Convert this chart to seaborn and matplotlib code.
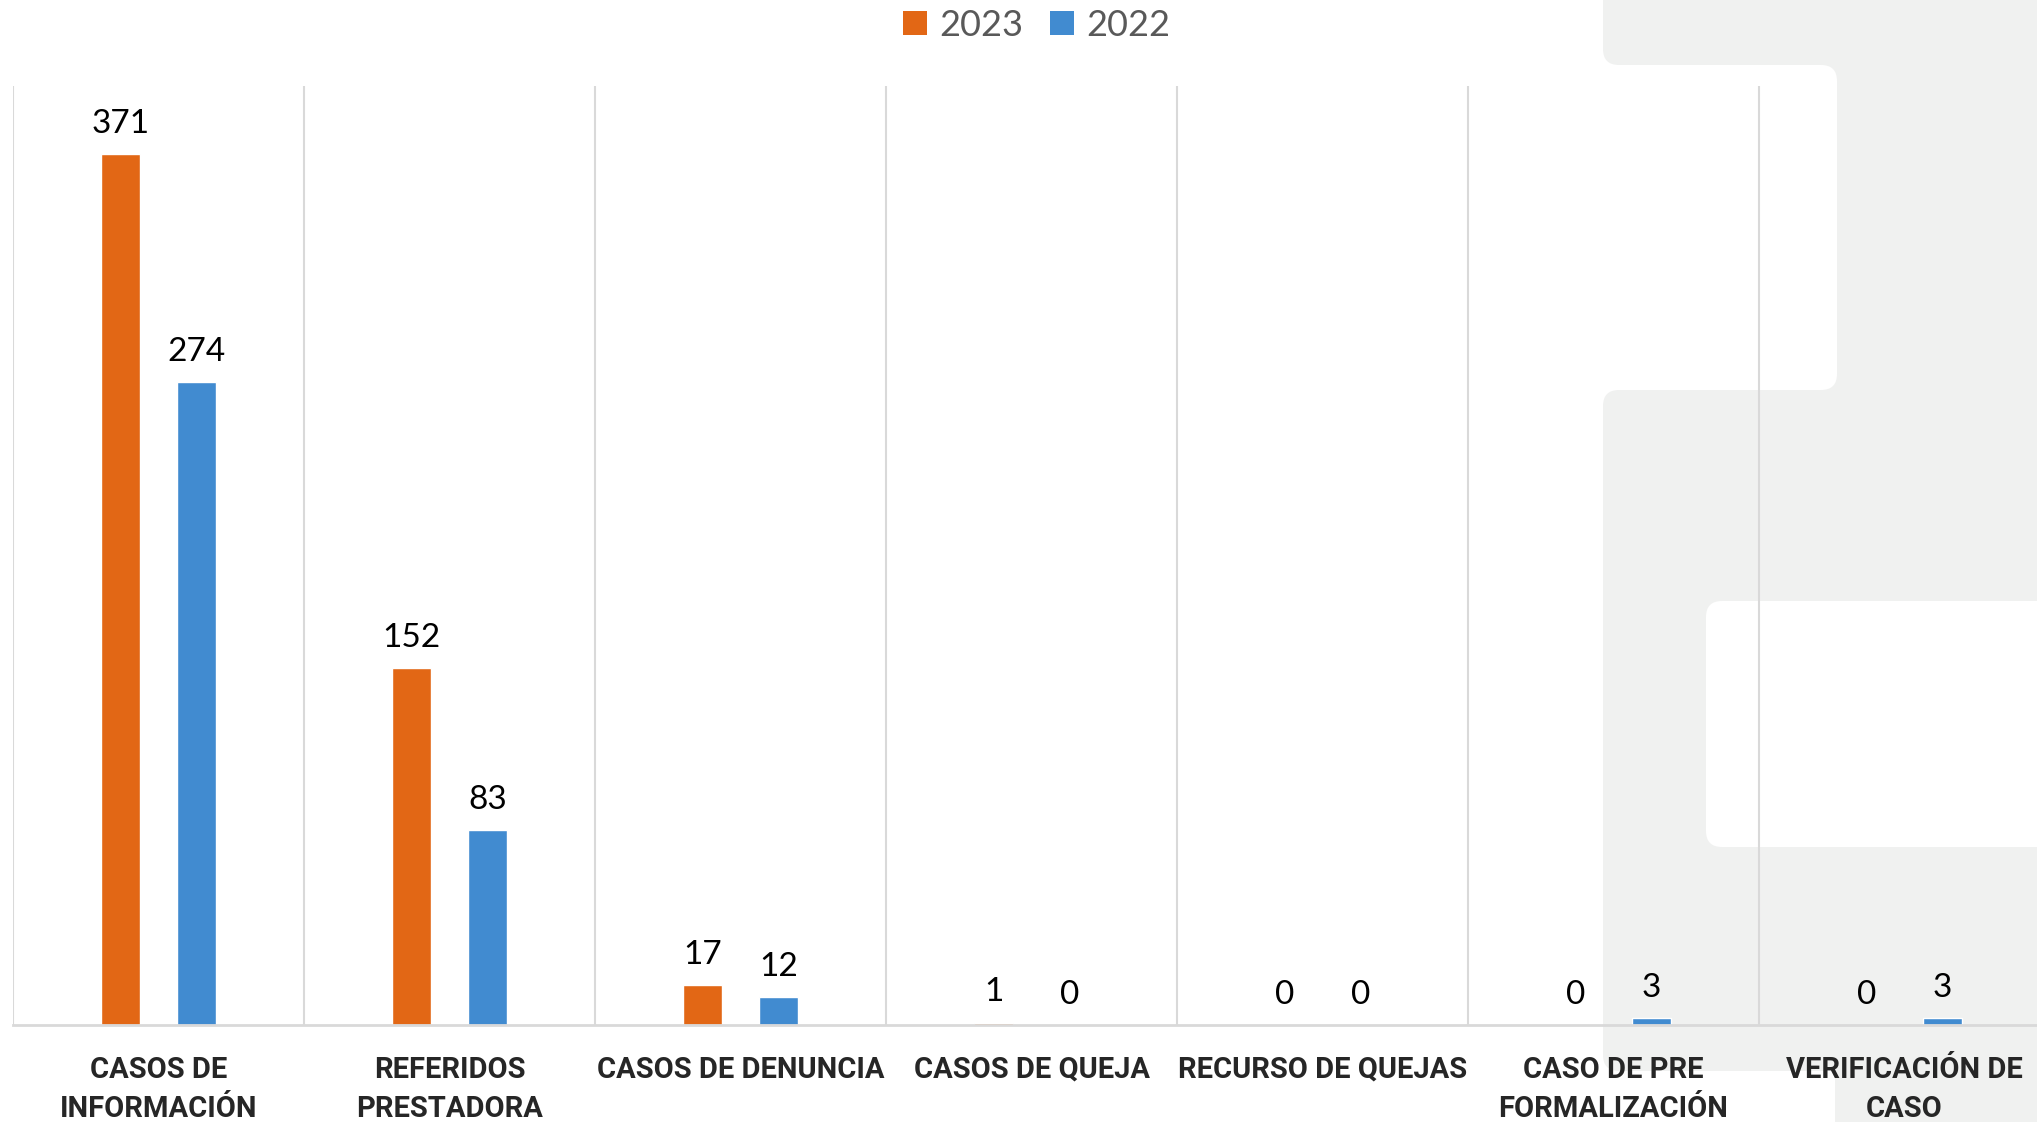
import pandas as pd
import numpy as np
import seaborn as sns
import matplotlib.pyplot as plt
from matplotlib.patches import FancyBboxPatch, Rectangle
from matplotlib.transforms import IdentityTransform

# Data
categories = ['CASOS DE\nINFORMACIÓN', 'REFERIDOS\nPRESTADORA', 'CASOS DE DENUNCIA',
              'CASOS DE QUEJA', 'RECURSO DE QUEJAS', 'CASO DE PRE\nFORMALIZACIÓN',
              'VERIFICACIÓN DE\nCASO']
values_2023 = [371, 152, 17, 1, 0, 0, 0]
values_2022 = [274, 83, 12, 0, 0, 3, 3]
years = ['2023', '2022']
colors = ['#E26715', '#418BD0']

df = pd.DataFrame({
    'categoria': categories * 2,
    'valor': values_2023 + values_2022,
    'anio': [years[0]] * len(categories) + [years[1]] * len(categories),
})

sns.set_style('white')
plt.rcParams['font.family'] = ['Lato', 'DejaVu Sans']

W, H = 2037, 1122
fig = plt.figure(figsize=(W / 100, H / 100), dpi=100)

# decorative light gray background shape, drawn in pixel coords (y from top)
gray = '#F0F1F0'
def px_box(x0, y0, x1, y1, color, rad=16, z=0):
    b = FancyBboxPatch((x0, H - y1), x1 - x0, y1 - y0,
                       boxstyle=f'round,pad=0,rounding_size={rad}',
                       transform=IdentityTransform(), facecolor=color,
                       edgecolor='none', zorder=z)
    fig.patches.append(b)

px_box(1720, 30, 2100, 420, gray, rad=0, z=0)
px_box(1540, 65, 1837, 390, 'white', z=1)
px_box(1603, -40, 2100, 65, gray, z=2)
px_box(1603, 390, 2100, 1071, gray, z=2)
px_box(1835, 1040, 2100, 1160, gray, rad=0, z=2)
px_box(1706, 601, 2100, 847, 'white', z=3)

ax = fig.add_axes([13 / W, (H - 1025) / H, (2050 - 13) / W, (1025 - 86) / H])
ax.set_facecolor('none')
ax.set_zorder(5)

sns.barplot(data=df, x='categoria', y='valor', hue='anio', hue_order=years,
            palette=colors, width=0.52, gap=0.485, saturation=1, ax=ax,
            legend=False)

for cont in ax.containers:
    ax.bar_label(cont, padding=11, fontsize=24, color='black')

ax.set_ylim(0, 400)
ax.set_xlim(-0.5, len(categories) - 0.5)
ax.set_yticks([])
ax.set_xlabel('')
ax.set_ylabel('')
ax.set_xticks(np.arange(-0.5, len(categories), 1), minor=True)
ax.grid(True, axis='x', which='minor', color='#D9D9D9', linewidth=1.5)
ax.tick_params(axis='x', which='both', length=0, pad=22)
for lab in ax.get_xticklabels():
    lab.set_family(['Roboto', 'Lato', 'DejaVu Sans'])
    lab.set_fontweight('bold')
    lab.set_fontsize(21)
    lab.set_linespacing(1.5)
for s in ['top', 'right', 'left']:
    ax.spines[s].set_visible(False)
ax.spines['bottom'].set_color('#D9D9D9')
ax.spines['bottom'].set_linewidth(2)

# legend at top
handles = [Rectangle((0, 0), 1, 1, facecolor=c, edgecolor='none') for c in colors]
fig.legend(handles, years, loc='center', bbox_to_anchor=(0.509, 1 - 25 / H),
           ncol=2, frameon=False, fontsize=26, labelcolor='#595959',
           handlelength=0.65, handleheight=0.65, handletextpad=0.35,
           columnspacing=0.75)

fig.savefig('out.png', dpi=100)
